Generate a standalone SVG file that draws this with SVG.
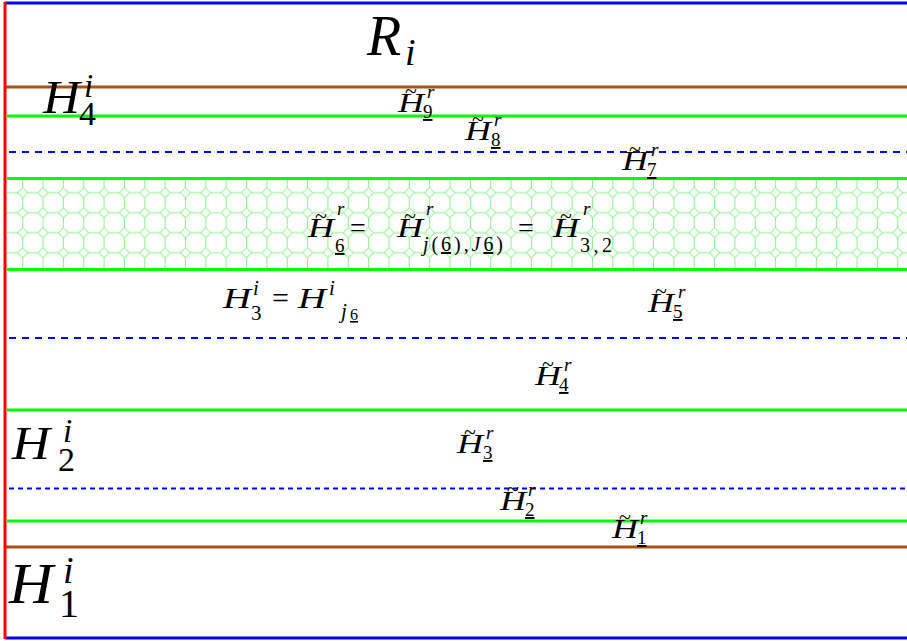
<svg xmlns="http://www.w3.org/2000/svg" width="907" height="641" viewBox="0 0 907 641">
<style>
.mi{font-family:"Liberation Serif","Times New Roman",serif;font-style:italic;fill:#000}
.rm{font-family:"Liberation Serif","Times New Roman",serif;font-style:normal;fill:#000}
.u{text-decoration:underline}
.blue{stroke:#0000ff;stroke-width:3}
.brown{stroke:#b0500f;stroke-width:3}
.green{stroke:#00ff00;stroke-width:3}
.dash{stroke:#0000ff;stroke-width:2;stroke-dasharray:7 6}
.dash2{stroke:#0000ff;stroke-width:2;stroke-dasharray:5 4}
.pat{stroke:#8cf28c;stroke-width:1;fill:none}
</style>
<defs>
<pattern id="oct" patternUnits="userSpaceOnUse" x="12.5" y="182.7" width="20.35" height="20">
<polygon class="pat" points="10.175,5 15.175,10 10.175,15 5.175,10"/>
<path class="pat" d="M0,10H5.175M15.175,10H20.35M10.175,0V5M10.175,15V20"/>
</pattern>
</defs>
<g id="band">
<rect x="7" y="180" width="900" height="89" fill="url(#oct)"/>
</g>
<g id="lines">
<line class="blue" x1="5" y1="3" x2="907" y2="3"/>
<line class="blue" x1="5" y1="638" x2="907" y2="638"/>
<line class="brown" x1="5" y1="87" x2="907" y2="87"/>
<line class="green" x1="7" y1="116" x2="907" y2="116"/>
<line class="dash" x1="9" y1="152" x2="907" y2="152"/>
<line class="green" x1="7" y1="178.5" x2="907" y2="178.5"/>
<line class="green" x1="7" y1="269.5" x2="907" y2="269.5"/>
<line class="dash" x1="9" y1="338" x2="907" y2="338"/>
<line class="green" x1="7" y1="410" x2="907" y2="410"/>
<line class="dash2" x1="9" y1="488.5" x2="907" y2="488.5"/>
<line class="green" x1="7" y1="521" x2="907" y2="521"/>
<line class="brown" x1="5" y1="547" x2="907" y2="547"/>
<line stroke="#ff0000" stroke-width="3" x1="5" y1="2" x2="5" y2="639"/>
</g>
<g id="R_i">
<text class="mi" x="367" y="55" font-size="56">R</text>
<text class="mi" x="405" y="65" font-size="38">i</text>
</g>
<g id="H4i">
<text class="mi" x="43" y="113" font-size="47" textLength="37" lengthAdjust="spacingAndGlyphs">H</text>
<text class="mi" x="84" y="97" font-size="33">i</text>
<text class="rm" x="79" y="125" font-size="34">4</text>
</g>
<g id="H2i">
<text class="mi" x="12" y="459" font-size="47" textLength="38" lengthAdjust="spacingAndGlyphs">H</text>
<text class="mi" x="63" y="442" font-size="33">i</text>
<text class="rm" x="58" y="471" font-size="34">2</text>
</g>
<g id="H1i">
<text class="mi" x="9" y="603" font-size="57" textLength="44" lengthAdjust="spacingAndGlyphs">H</text>
<text class="mi" x="63" y="583" font-size="38">i</text>
<text class="rm" x="59" y="617" font-size="40">1</text>
</g>
<g id="H3i">
<text class="mi" x="223" y="308" font-size="30" textLength="28" lengthAdjust="spacingAndGlyphs">H</text>
<text class="mi" x="253" y="295" font-size="21">i</text>
<text class="rm" x="251" y="320" font-size="21">3</text>
<text class="rm" x="272" y="308" font-size="30">=</text>
<text class="mi" x="298" y="308" font-size="30" textLength="28" lengthAdjust="spacingAndGlyphs">H</text>
<text class="mi" x="329" y="295" font-size="21">i</text>
<text class="mi" x="341" y="318" font-size="21">j</text>
<text class="rm u" x="350" y="320" font-size="16">6</text>
</g>
<g id="Ht9" transform="translate(398,112)">
<text class="mi" font-size="28" textLength="26" lengthAdjust="spacingAndGlyphs">H</text>
<text class="rm" x="13" y="-14" font-size="22" text-anchor="middle">~</text>
<text class="mi" x="29" y="-14" font-size="19">r</text>
<text class="rm u" x="25" y="6" font-size="19">9</text>
</g>
<g id="Ht8" transform="translate(465,140)">
<text class="mi" font-size="28" textLength="26" lengthAdjust="spacingAndGlyphs">H</text>
<text class="rm" x="13" y="-14" font-size="22" text-anchor="middle">~</text>
<text class="mi" x="29" y="-14" font-size="19">r</text>
<text class="rm u" x="26" y="6" font-size="19">8</text>
</g>
<g id="Ht7" transform="translate(622,170)">
<text class="mi" font-size="28" textLength="26" lengthAdjust="spacingAndGlyphs">H</text>
<text class="rm" x="13" y="-14" font-size="22" text-anchor="middle">~</text>
<text class="mi" x="29" y="-14" font-size="19">r</text>
<text class="rm u" x="25" y="6" font-size="19">7</text>
</g>
<g id="Ht6" transform="translate(308,237)">
<text class="mi" font-size="28" textLength="26" lengthAdjust="spacingAndGlyphs">H</text>
<text class="rm" x="13" y="-14" font-size="22" text-anchor="middle">~</text>
<text class="mi" x="29" y="-22" font-size="19">r</text>
<text class="rm u" x="27" y="15" font-size="19">6</text>
<text class="rm" x="42" y="0" font-size="28">=</text>
<text class="mi" x="89" font-size="28" textLength="26" lengthAdjust="spacingAndGlyphs">H</text>
<text class="rm" x="102" y="-14" font-size="22" text-anchor="middle">~</text>
<text class="mi" x="118" y="-22" font-size="19">r</text>
<text font-size="20" y="14" x="115" class="mi" textLength="80" lengthAdjust="spacing">j<tspan class="rm">(</tspan><tspan class="rm u">6</tspan><tspan class="rm">),</tspan>J<tspan class="rm u">6</tspan><tspan class="rm">)</tspan></text>
<text class="rm" x="210" y="0" font-size="28">=</text>
<text class="mi" x="245" font-size="28" textLength="26" lengthAdjust="spacingAndGlyphs">H</text>
<text class="rm" x="258" y="-14" font-size="22" text-anchor="middle">~</text>
<text class="mi" x="275" y="-22" font-size="19">r</text>
<text class="rm" x="272" y="15" font-size="20" textLength="32" lengthAdjust="spacing">3,2</text>
</g>
<g id="Ht5" transform="translate(648,312)">
<text class="mi" font-size="28" textLength="26" lengthAdjust="spacingAndGlyphs">H</text>
<text class="rm" x="13" y="-14" font-size="22" text-anchor="middle">~</text>
<text class="mi" x="30" y="-14" font-size="19">r</text>
<text class="rm u" x="25" y="6" font-size="19">5</text>
</g>
<g id="Ht4" transform="translate(535,385)">
<text class="mi" font-size="28" textLength="26" lengthAdjust="spacingAndGlyphs">H</text>
<text class="rm" x="13" y="-14" font-size="22" text-anchor="middle">~</text>
<text class="mi" x="29" y="-14" font-size="19">r</text>
<text class="rm u" x="24" y="6" font-size="19">4</text>
</g>
<g id="Ht3" transform="translate(457,453)">
<text class="mi" font-size="28" textLength="26" lengthAdjust="spacingAndGlyphs">H</text>
<text class="rm" x="13" y="-14" font-size="22" text-anchor="middle">~</text>
<text class="mi" x="29" y="-14" font-size="19">r</text>
<text class="rm u" x="26" y="6" font-size="19">3</text>
</g>
<g id="Ht2" transform="translate(500,510)">
<text class="mi" font-size="28" textLength="26" lengthAdjust="spacingAndGlyphs">H</text>
<text class="rm" x="13" y="-14" font-size="22" text-anchor="middle">~</text>
<text class="mi" x="28" y="-14" font-size="19">r</text>
<text class="rm u" x="25" y="6" font-size="19">2</text>
</g>
<g id="Ht1" transform="translate(612,538)">
<text class="mi" font-size="28" textLength="26" lengthAdjust="spacingAndGlyphs">H</text>
<text class="rm" x="13" y="-14" font-size="22" text-anchor="middle">~</text>
<text class="mi" x="28" y="-14" font-size="19">r</text>
<text class="rm u" x="25" y="6" font-size="19">1</text>
</g>
</svg>
